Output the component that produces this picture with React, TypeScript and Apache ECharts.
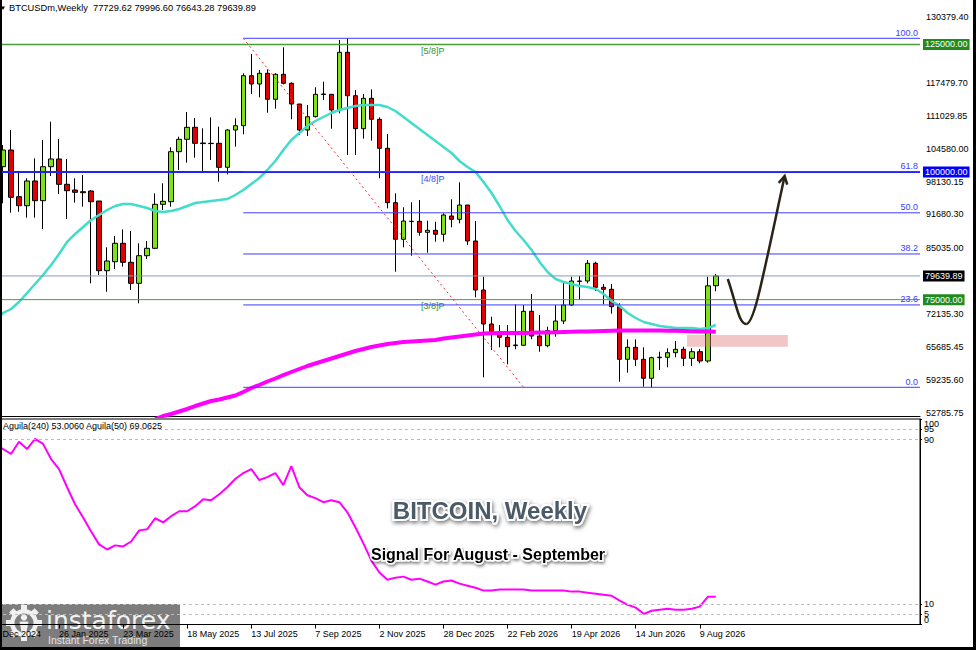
import React, { useEffect, useRef } from "react";
import * as echarts from "echarts";

// ---------- categories (weekly bars) ----------
const MONTHS = ["Jan", "Feb", "Mar", "Apr", "May", "Jun", "Jul", "Aug", "Sep", "Oct", "Nov", "Dec"];
const WEEK_COUNT = 116;
const FIRST_WEEK_UTC = Date.UTC(2024, 11, 1);
const categories: string[] = [];
for (let k = 0; k < WEEK_COUNT; k++) {
  const d = new Date(FIRST_WEEK_UTC + k * 7 * 86400000);
  categories.push(`${d.getUTCDate()} ${MONTHS[d.getUTCMonth()]} ${d.getUTCFullYear()}`);
}
const xTickLabels = [
  "1 Dec 2024", "26 Jan 2025", "23 Mar 2025", "18 May 2025", "13 Jul 2025", "7 Sep 2025",
  "2 Nov 2025", "28 Dec 2025", "22 Feb 2026", "19 Apr 2026", "14 Jun 2026", "9 Aug 2026",
];

// ---------- candles (first bar = 8 Dec 2024) ----------
const FIRST_BAR = 1;
const barOpen = [
  101046, 104318, 95168, 93404, 98244, 94384, 101046, 102555, 97597, 96480,
  96148, 96284, 94325, 80668, 82432, 86037, 82314, 78199, 83607, 85057,
  93678, 94188, 103985, 106415, 108766, 105690, 105631, 105631, 100928, 108237,
  109079, 118876, 117250, 119347, 114252, 119151, 117387, 113331, 108237, 110843,
  115291, 115232, 112156, 123461, 114958, 108492, 114448, 110333, 104651, 93992,
  86820, 90347, 90347, 88192, 88584, 87800, 91386, 90739, 93541, 86487,
  76886, 70224, 68716, 67618, 66110, 66051, 72713, 67873, 65973, 68912,
  70812, 73947, 78650, 78650, 82118, 77415, 77024, 73614, 63308, 65659,
  63308, 59585, 63621, 63699, 64601, 65267, 63504, 64797, 62975, 77729.62,
];
const barClose = [
  104318, 95050, 93404, 98244, 94384, 101046, 102555, 97597, 96343, 96030,
  95951, 94188, 80668, 82569, 86037, 82314, 78199, 83607, 85057, 93678,
  94266, 103985, 106415, 108766, 105631, 105572, 105572, 100928, 108237, 109079,
  118876, 117250, 119347, 114252, 119151, 117387, 113331, 108237, 110843, 115232,
  115193, 112156, 123461, 114958, 108492, 114448, 110333, 104651, 93992, 86820,
  90406, 90290, 88192, 88584, 87800, 91582, 90739, 93541, 86487, 76886,
  70224, 68716, 67618, 65777, 65992, 72713, 67873, 65973, 68912, 70812,
  73947, 78650, 78552, 82118, 77415, 77024, 73614, 63308, 65659, 63308,
  59585, 63621, 63719, 64601, 65267, 63504, 64797, 62975, 77700, 79639.89,
];
const barHigh = [
  105298, 108237, 99870, 98773, 102692, 106277, 109863, 106473, 102555, 98773,
  99419, 96480, 94325, 85253, 87467, 88780, 88447, 86037, 86487, 95834,
  97793, 104847, 106924, 111764, 110588, 108570, 110725, 108883, 108374, 110529,
  119347, 123128, 119993, 120130, 119347, 124441, 117583, 113331, 113135, 116603,
  117701, 115232, 125871, 126204, 116074, 115291, 116212, 110725, 107453, 95834,
  93091, 94070, 94521, 90465, 90269, 91915, 94658, 97989, 93541, 90406,
  79492, 71655, 70028, 70028, 74084, 73947, 76103, 71988, 69695, 73947,
  78316, 79492, 79630, 82765, 82432, 78062, 78062, 74280, 67226, 67226,
  65659, 63817, 64797, 65463, 66893, 65777, 65463, 65326, 79492, 79996.6,
];
const barLow = [
  93874, 92033, 92229, 91053, 91053, 88839, 99224, 95697, 90798, 93992,
  93208, 78199, 79825, 76553, 81001, 81452, 76886, 74280, 82961, 84900,
  92562, 93208, 100399, 101830, 102809, 100203, 102359, 98107, 99557, 104965,
  107394, 115291, 114644, 111627, 112410, 117191, 110333, 107257, 107061, 110700,
  114115, 108492, 111509, 103338, 103338, 106532, 106140, 98773, 92895, 80472,
  85253, 83607, 87526, 84195, 86350, 86350, 89172, 89956, 85704, 75456,
  59781, 65130, 65659, 62328, 65267, 65914, 67226, 64797, 65659, 67736,
  70224, 73751, 74927, 78199, 76690, 74084, 72243, 58918, 60682, 61995,
  57939, 57821, 61211, 61740, 63699, 61995, 61995, 62524, 62642, 76643.28,
];

// ---------- moving averages ----------
const CYAN_START = 0;
const maFast = [
  70812, 72380, 73164, 74537, 76300, 78062, 79826, 81785, 83940, 86302, 87858,
  89231, 90602, 91580, 92562, 93345, 93737, 93737, 93345, 92953, 92365,
  92170, 92365, 92757, 93345, 93932, 94129, 94325, 94521, 94716, 95500,
  96480, 97656, 98832, 100399, 102163, 104318, 106277, 107649, 109021, 110000,
  110784, 111568, 112156, 112547, 112939, 113135, 113135, 113135, 112743, 111959,
  110784, 109608, 108433, 107257, 106081, 104905, 103730, 102163, 100987, 100007,
  98048, 95892, 93345, 90602, 88447, 86683, 84724, 82372, 80413, 79042,
  78454, 78062, 77670, 77474, 77083, 76103, 74731, 73751, 72380, 71400,
  70616, 70224, 69832, 69636, 69441, 69441, 69441, 69245, 69441, 70028,
];
const MAGENTA_START = 20;
const maSlow = [
  51610, 52198, 52590, 53080, 53570, 54157, 54647, 55137, 55431, 55823,
  56214, 56900, 57684, 58272, 58958, 59546, 60231, 60819, 61407, 61995,
  62485, 62975, 63464, 63954, 64444, 64934, 65326, 65717, 66011, 66305,
  66501, 66697, 66795, 66893, 66991, 67089, 67383, 67579, 67775, 67971,
  68167, 68363, 68422, 68461, 68461, 68461, 68461, 68500, 68539, 68559,
  68598, 68657, 68696, 68735, 68774, 68814, 68853, 68892, 68931, 68951,
  68951, 68951, 68951, 68931, 68912, 68892, 68853, 68814, 68774, 68735,
  68696,
];

// ---------- oscillator (lower panel) ----------
const oscValues = [
  87.3, 85.4, 83.0, 88.9, 85.4, 90.3, 87.9, 80.5, 75.6, 66.8, 58.5,
  52.1, 45.3, 39.0, 36.5, 38.5, 38.0, 40.4, 45.8, 46.3, 51.7,
  49.7, 52.7, 55.1, 55.1, 57.6, 61.0, 60.5, 63.4, 66.8, 70.8,
  73.7, 75.6, 70.3, 71.7, 73.7, 67.8, 77.1, 66.8, 62.9, 61.5,
  59.5, 60.5, 59.5, 54.6, 47.3, 39.5, 31.1, 25.3, 21.8, 22.8,
  23.3, 21.8, 22.3, 20.9, 19.4, 20.9, 21.4, 19.9, 18.9, 17.9,
  16.5, 16.5, 17.0, 17.0, 17.0, 17.0, 16.5, 16.5, 16.5, 16.5,
  16.5, 16.0, 16.0, 15.5, 15.0, 14.5, 14.0, 11.6, 9.6, 8.2,
  5.2, 6.7, 7.2, 7.7, 7.2, 7.2, 7.7, 8.7, 13.5, 13.5,
];
const oscLevels = [95, 90, 10, 5];
const oscInnerTicks = [5, 10, 90, 95];
const oscEdgeTicks = [0, 100];

// ---------- axes ----------
const Y_MIN = 52198;
const Y_MAX = 133709;
const priceTicks = [
  52785.75, 59235.6, 65685.45, 72135.3, 85035.0, 91680.3, 98130.15,
  104580.0, 111029.85, 117479.7, 130379.4,
];

// ---------- annotations ----------
const X_MIN = -0.5;
const X_MAX = WEEK_COUNT - 0.5;
const keyLevels = [125000, 100000, 75000];
const lastPrice = 79639.89;
const fibLow = 57822;
const fibHigh = 126204;
const fibRatios = [0, 23.6, 38.2, 50, 61.8, 100];
const fibAnchorIdx = [31, 66];
const murreyNames = ["[5/8]P", "[4/8]P", "[3/8]P"];
const murreyLabelIdx = 53.2;
const supportLevel = 83400;
const supportSpan = [23.35, 98.6];
const zoneBox = [86.4, 99.0, 65780, 68070];
const arrowCurve = [
  [91.5, 79042], [92.6, 73947], [92.9, 70224], [93.8, 70224],
  [94.8, 70224], [95.8, 78844], [98.6, 99224],
];
const priceTags = [125000, 100000, 79639.89, 75000];

const FONT = '"Liberation Sans", Arial, sans-serif';
const GREEN_LINE = "#4a9e3a";
const BLUE_LINE = "#2020ff";
const FIB_BLUE = "#3c3cff";

function buildOption(): any {
  const candleData = barOpen.map((o, k) => [FIRST_BAR + k, o, barClose[k], barLow[k], barHigh[k]]);
  const showTick = (idx: number) => xTickLabels.indexOf(categories[idx]) >= 0;

  const keyColors = [GREEN_LINE, BLUE_LINE, GREEN_LINE];
  const keyWidths = [1.5, 2, 1];
  const murreyColors = ["#3a8f2a", "#4545ff", "#3a8f2a"];
  const tagColors = ["#238a1e", "#0000ff", "#000000", "#238a1e"];

  const renderAnnotations = (_p: any, api: any) => {
    const pt = (x: number, v: number) => api.coord([x, v]);
    const xL = pt(X_MIN, lastPrice)[0];
    const xR = pt(X_MAX, lastPrice)[0];
    const yOf = (v: number) => pt(0, v)[1];
    const ch: any[] = [];

    const za = pt(zoneBox[0], zoneBox[3]);
    const zb = pt(zoneBox[1], zoneBox[2]);
    ch.push({
      type: "rect",
      shape: { x: za[0], y: za[1], width: zb[0] - za[0], height: zb[1] - za[1] },
      style: { fill: "rgba(226,128,128,0.45)" },
    });

    const yl = yOf(lastPrice);
    ch.push({ type: "line", shape: { x1: xL, y1: yl, x2: xR, y2: yl }, style: { stroke: "#8a98b8", lineWidth: 1 } });

    keyLevels.forEach((v, k) => {
      const y = yOf(v);
      ch.push({ type: "line", shape: { x1: xL, y1: y, x2: xR, y2: y }, style: { stroke: keyColors[k], lineWidth: keyWidths[k] } });
      const mx = pt(murreyLabelIdx, v)[0];
      ch.push({
        type: "text",
        style: { text: murreyNames[k], x: mx, y: y + 2, fill: murreyColors[k], fontSize: 9, fontFamily: FONT, align: "left", verticalAlign: "top" },
      });
    });

    const fx = pt(fibAnchorIdx[0], fibHigh)[0];
    fibRatios.forEach((r) => {
      const v = fibLow + (r / 100) * (fibHigh - fibLow);
      const y = yOf(v);
      ch.push({ type: "line", shape: { x1: fx, y1: y, x2: xR, y2: y }, style: { stroke: FIB_BLUE, lineWidth: 1 } });
      ch.push({
        type: "text",
        style: { text: r.toFixed(1), x: xR - 2, y: y - 1, fill: FIB_BLUE, fontSize: 9, fontFamily: FONT, align: "right", verticalAlign: "bottom" },
      });
    });
    const d1 = pt(fibAnchorIdx[0], fibHigh);
    const d2 = pt(fibAnchorIdx[1], fibLow);
    ch.push({
      type: "line",
      shape: { x1: d1[0], y1: d1[1], x2: d2[0], y2: d2[1] },
      style: { stroke: "#ff2a2a", lineWidth: 1, lineDash: [2, 3] },
    });

    const s1 = pt(supportSpan[0], supportLevel);
    const s2 = pt(supportSpan[1], supportLevel);
    ch.push({
      type: "line",
      shape: { x1: s1[0], y1: s1[1], x2: s2[0], y2: s2[1] },
      style: { stroke: "#2323b8", lineWidth: 4, shadowBlur: 3, shadowColor: "rgba(0,0,0,0.45)", shadowOffsetY: 2 },
    });

    const P = arrowCurve.map((p) => pt(p[0], p[1]));
    const arrowStyle = { stroke: "#2a2416", lineWidth: 2.5, fill: "none" };
    ch.push({
      type: "bezierCurve",
      shape: { x1: P[0][0], y1: P[0][1], cpx1: P[1][0], cpy1: P[1][1], cpx2: P[2][0], cpy2: P[2][1], x2: P[3][0], y2: P[3][1] },
      style: arrowStyle,
    });
    ch.push({
      type: "bezierCurve",
      shape: { x1: P[3][0], y1: P[3][1], cpx1: P[4][0], cpy1: P[4][1], cpx2: P[5][0], cpy2: P[5][1], x2: P[6][0], y2: P[6][1] },
      style: arrowStyle,
    });
    const tip = P[6];
    let dx = tip[0] - P[5][0];
    let dy = tip[1] - P[5][1];
    const len = Math.sqrt(dx * dx + dy * dy) || 1;
    dx /= len; dy /= len;
    const arm = (ang: number) => {
      const c = Math.cos(ang), s = Math.sin(ang);
      const bx = -dx, by = -dy;
      return [tip[0] + 9 * (bx * c - by * s), tip[1] + 9 * (bx * s + by * c)];
    };
    ch.push({
      type: "polyline",
      shape: { points: [arm(0.5), tip, arm(-0.5)] },
      style: arrowStyle,
    });

    priceTags.forEach((v, k) => {
      ch.push({
        type: "text",
        style: {
          text: v.toFixed(2), x: xR + 3, y: yOf(v), fill: "#ffffff", fontSize: 9, fontFamily: FONT,
          align: "left", verticalAlign: "middle", backgroundColor: tagColors[k], padding: [1, 2, 1, 2],
        },
      });
    });

    return { type: "group", children: ch };
  };

  const gearTeeth: any[] = [];
  for (let k = 0; k < 8; k++) {
    const a = (k * Math.PI) / 4;
    gearTeeth.push({
      type: "rect",
      x: 24 + 14.5 * Math.cos(a),
      y: 623 + 14.5 * Math.sin(a),
      rotation: -a,
      shape: { x: -3.5, y: -3, width: 7, height: 6 },
      style: { fill: "#f0f0f0" },
    });
  }

  const oscAxisBase = {
    type: "value", gridIndex: 1, position: "right", min: 0, max: 100,
    splitLine: { show: false },
  };

  return {
    animation: false,
    backgroundColor: "#ffffff",
    textStyle: { fontFamily: FONT },
    grid: [
      { left: -9, right: 56, top: 0, height: 416, outerBoundsMode: "none", containLabel: false },
      {
        left: -9, right: 56, top: 419, height: 205.5, show: true, borderColor: "#000", borderWidth: 1,
        outerBoundsMode: "none", containLabel: false,
      },
    ],
    xAxis: [
      {
        type: "category", gridIndex: 0, data: categories, boundaryGap: true,
        axisLine: { show: true, lineStyle: { color: "#000", width: 1 } },
        axisTick: { show: false }, axisLabel: { show: false }, splitLine: { show: false },
      },
      { type: "value", gridIndex: 0, min: X_MIN, max: X_MAX, show: false },
      {
        type: "category", gridIndex: 1, data: categories, boundaryGap: true,
        axisLine: { show: true, lineStyle: { color: "#000", width: 1 } },
        axisTick: { show: true, alignWithLabel: true, interval: showTick, length: 4, lineStyle: { color: "#000" } },
        axisLabel: { interval: showTick, align: "left", fontSize: 9, color: "#000", margin: 5, fontFamily: FONT },
        splitLine: { show: false },
      },
    ],
    yAxis: [
      {
        type: "value", gridIndex: 0, position: "right", min: Y_MIN, max: Y_MAX,
        axisLine: { show: true, lineStyle: { color: "#000", width: 1 } },
        axisTick: { show: true, length: 3, customValues: priceTicks, lineStyle: { color: "#000" } },
        axisLabel: { customValues: priceTicks, formatter: (v: number) => v.toFixed(2), fontSize: 9, color: "#000", margin: 6, fontFamily: FONT },
        splitLine: { show: false },
      },
      {
        ...oscAxisBase,
        axisLine: { show: true, lineStyle: { color: "#000", width: 1 } },
        axisTick: { show: true, length: 2, customValues: oscInnerTicks, lineStyle: { color: "#000" } },
        axisLabel: { customValues: oscInnerTicks, fontSize: 9, color: "#000", margin: 4, fontFamily: FONT },
      },
      {
        ...oscAxisBase,
        axisLine: { show: false },
        axisTick: { show: true, length: 2, customValues: oscEdgeTicks, lineStyle: { color: "#000" } },
        axisLabel: {
          customValues: oscEdgeTicks, fontSize: 9, color: "#000", margin: 4, fontFamily: FONT,
          showMinLabel: true, showMaxLabel: true,
          verticalAlignMinLabel: "bottom", verticalAlignMaxLabel: "top",
        },
      },
    ],
    series: [
      {
        name: "BTCUSDm",
        type: "candlestick",
        xAxisIndex: 0, yAxisIndex: 0,
        barWidth: 5,
        data: candleData,
        encode: { x: 0, y: [1, 2, 3, 4] },
        itemStyle: {
          color: "#7ee21a", color0: "#e00000",
          borderColor: "#000", borderColor0: "#000", borderColorDoji: "#000", borderWidth: 1,
        },
        z: 2,
      },
      {
        name: "MA fast", type: "line", xAxisIndex: 0, yAxisIndex: 0,
        data: maFast.map((v, k) => [CYAN_START + k, v]),
        showSymbol: false, symbol: "none",
        lineStyle: { color: "#42dccb", width: 2.5 }, z: 3,
      },
      {
        name: "MA slow", type: "line", xAxisIndex: 0, yAxisIndex: 0,
        data: maSlow.map((v, k) => [MAGENTA_START + k, v]),
        showSymbol: false, symbol: "none",
        lineStyle: { color: "#ff00ff", width: 4 }, z: 3,
      },
      {
        name: "annotations", type: "custom", xAxisIndex: 1, yAxisIndex: 0,
        data: [[50, 80000]], renderItem: renderAnnotations, silent: true, z: 4,
      },
      {
        name: "Aguila", type: "line", xAxisIndex: 2, yAxisIndex: 1,
        data: oscValues.map((v, k) => [k, v]),
        showSymbol: false, symbol: "none",
        lineStyle: { color: "#ff00ff", width: 2 }, z: 3,
        markLine: {
          silent: true, symbol: "none", label: { show: false },
          lineStyle: { color: "#bcbcbc", type: [3, 3], width: 1 },
          data: oscLevels.map((v) => ({ yAxis: v })),
        },
      },
    ],
    graphic: [
      {
        type: "polygon", z: 100,
        shape: { points: [[1, 6.5], [5, 6.5], [3, 10]] }, style: { fill: "#000" },
      },
      {
        type: "text", x: 9, y: 8, z: 100,
        style: { text: "BTCUSDm,Weekly  77729.62 79996.60 76643.28 79639.89", font: `9.3px ${FONT}`, fill: "#000", verticalAlign: "middle" },
      },
      {
        type: "text", x: 3, y: 426, z: 100,
        style: { text: "Aguila(240) 53.0060 Aguila(50) 69.0625", font: `9px ${FONT}`, fill: "#000", verticalAlign: "middle" },
      },
      {
        type: "text", x: 490, y: 510, z: 100,
        style: {
          text: "BITCOIN, Weekly", font: `bold 24px ${FONT}`, fill: "#4b5a69", stroke: "#ffffff", lineWidth: 4,
          align: "center", verticalAlign: "middle",
          textShadowColor: "rgba(0,0,0,0.55)", textShadowBlur: 4, textShadowOffsetX: 1, textShadowOffsetY: 2,
        },
      },
      {
        type: "text", x: 488, y: 554, z: 100,
        style: {
          text: "Signal For August - September", font: `bold 16px ${FONT}`, fill: "#000000", stroke: "#ffffff", lineWidth: 3,
          align: "center", verticalAlign: "middle",
          textShadowColor: "rgba(0,0,0,0.5)", textShadowBlur: 3, textShadowOffsetX: 1, textShadowOffsetY: 2,
        },
      },
      {
        type: "group", z: 100,
        children: [
          { type: "rect", shape: { x: 0, y: 604, width: 180, height: 43 }, style: { fill: "rgba(100,100,100,0.84)" } },
          ...gearTeeth,
          { type: "ring", shape: { cx: 24, cy: 623, r: 14, r0: 9.5 }, style: { fill: "#f0f0f0" } },
          { type: "circle", shape: { cx: 24, cy: 617.5, r: 3.2 }, style: { fill: "#f0f0f0" } },
          { type: "polygon", shape: { points: [[19.5, 621.5], [28.5, 621.5], [26.3, 633], [21.7, 633]] }, style: { fill: "#f0f0f0" } },
          {
            type: "text", x: 46, y: 620,
            style: { text: "instaforex", font: `25px "DejaVu Sans", Verdana, sans-serif`, fill: "#f2f2f2", verticalAlign: "middle" },
          },
          {
            type: "text", x: 48, y: 640,
            style: { text: "Instant Forex Trading", font: `10.5px ${FONT}`, fill: "#e4e4e4", verticalAlign: "middle" },
          },
        ],
      },
      { type: "rect", z: 101, shape: { x: 0, y: 0, width: 2, height: 650 }, style: { fill: "#000" } },
      { type: "rect", z: 101, shape: { x: 973, y: 0, width: 3, height: 650 }, style: { fill: "#000" } },
      { type: "rect", z: 101, shape: { x: 0, y: 647, width: 976, height: 3 }, style: { fill: "#000" } },
    ],
  };
}

export default function App() {
  const ref = useRef<HTMLDivElement>(null);
  useEffect(() => {
    document.body.style.margin = "0";
    if (!ref.current) return;
    const chart = echarts.init(ref.current, undefined, { renderer: "svg" });
    chart.setOption(buildOption());
    return () => chart.dispose();
  }, []);
  return <div ref={ref} style={{ width: 976, height: 650 }} />;
}
